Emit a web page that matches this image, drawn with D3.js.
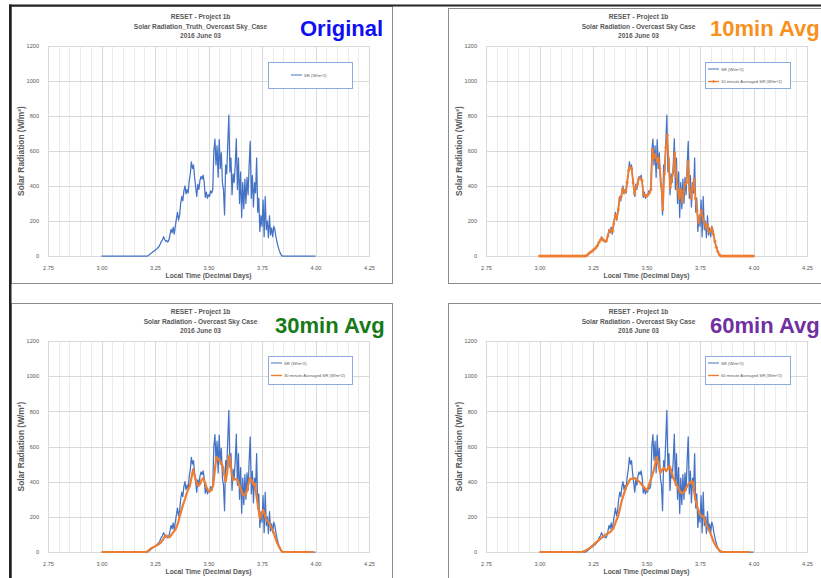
<!DOCTYPE html>
<html><head><meta charset="utf-8">
<script src="https://cdn.jsdelivr.net/npm/d3@7"></script>
<style>body{margin:0;background:#fff;} svg{display:block;}</style>
</head><body><svg id="c" width="821" height="578"></svg>
<script>
// ---------- DATA ----------
const xTicks = [2.75, 3.00, 3.25, 3.50, 3.75, 4.00, 4.25];
const yTicks = [0, 200, 400, 600, 800, 1000, 1200];
const xDomain = [2.75, 4.25];
const yDomain = [0, 1200];
const minorGridStep = 0.05;

const titleLine1 = "RESET - Project 1b";
const titleLine3 = "2016 June 03";
const xTitle = "Local Time (Decimal Days)";
const yTitle = "Solar Radiation (W/m\u00B2)";
const srLabel = "SR (W/m^2)";

// measured solar radiation [local time (decimal days), W/m^2]
const srSeries = [
 [3.000,0],[3.215,0],[3.220,3],[3.225,8],[3.230,14],[3.235,18],[3.240,24],[3.245,27],[3.250,33],[3.255,38],
 [3.260,42],[3.265,50],[3.270,56],[3.275,70],[3.280,84],[3.285,92],[3.290,110],[3.295,96],[3.300,84],[3.305,88],
 [3.310,80],[3.315,92],[3.320,120],[3.325,152],[3.330,132],[3.335,165],[3.340,125],[3.345,170],[3.350,212],[3.355,250],
 [3.360,205],[3.365,235],[3.370,300],[3.375,340],[3.380,315],[3.385,372],[3.390,400],[3.395,355],[3.400,380],[3.405,360],
 [3.410,430],[3.415,470],[3.420,538],[3.425,500],[3.430,520],[3.435,450],[3.440,395],[3.445,340],[3.450,410],[3.455,380],
 [3.460,430],[3.465,455],[3.470,440],[3.475,462],[3.480,420],[3.485,335],[3.490,365],[3.495,330],[3.500,350],[3.505,340],
 [3.510,372],[3.515,360],[3.520,380],[3.525,600],[3.530,668],[3.535,520],[3.540,630],[3.545,450],[3.550,665],[3.555,500],
 [3.560,590],[3.565,420],[3.570,380],[3.575,235],[3.580,520],[3.585,470],[3.590,640],[3.595,805],[3.600,480],[3.605,560],
 [3.610,350],[3.615,470],[3.620,420],[3.625,520],[3.630,670],[3.635,380],[3.640,560],[3.645,300],[3.650,480],[3.655,220],
 [3.660,420],[3.665,270],[3.670,440],[3.675,300],[3.680,450],[3.685,350],[3.690,520],[3.695,655],[3.700,330],[3.705,460],
 [3.710,280],[3.715,420],[3.720,360],[3.725,560],[3.730,250],[3.735,330],[3.740,140],[3.745,230],[3.750,170],[3.755,320],
 [3.760,110],[3.765,340],[3.770,150],[3.775,200],[3.780,105],[3.785,230],[3.790,120],[3.795,160],[3.800,110],[3.805,170],
 [3.810,150],[3.815,110],[3.820,80],[3.825,55],[3.830,35],[3.835,18],[3.840,6],[3.845,0],[4.000,0]
];

// 10 minute averaged SR, one value every 10 minutes starting at day 3.00
const avg10Start = 3.0;
const avg10StepMinutes = 10;
const avg10Values = [
 0,0,0,0,0,0,0,0,0,0, 0,0,0,0,0,0,0,0,0,0, 0,0,0,0,0,0,0,0,0,0, 0,0,
 5,13,20,26,33,40,48,60,78,92,
 102,90,86,86,115,145,150,140,185,235,
 215,265,330,340,385,365,370,420,490,510,
 500,420,355,395,410,445,445,430,350,345,
 342,350,362,380,610,560,580,540,560,500,
 400,265,470,620,690,520,390,440,480,590,
 460,380,330,380,310,370,410,420,540,380,
 330,380,440,330,260,190,230,260,210,190,
 160,180,140,140,160,125,85,50,25,8,
 0,0,0,0,0,0,0,0,0,0, 0,0,0,0,0,0,0,0,0,0, 0,0,0
];

// 30 minute averaged SR [day, W/m^2]
const avg30Series = [
 [3.00,0],[3.21,0],[3.22,8],[3.233,22],[3.25,32],[3.265,42],[3.278,55],[3.288,72],[3.30,95],[3.31,88],
 [3.319,84],[3.328,100],[3.335,112],[3.345,128],[3.352,145],[3.36,175],[3.366,205],[3.373,235],[3.38,265],[3.39,300],
 [3.397,330],[3.405,355],[3.413,375],[3.42,420],[3.428,470],[3.436,430],[3.444,395],[3.452,375],[3.46,385],[3.468,410],
 [3.475,420],[3.482,400],[3.49,370],[3.498,350],[3.506,345],[3.514,352],[3.522,380],[3.53,470],[3.537,540],[3.545,530],
 [3.553,520],[3.561,500],[3.569,480],[3.575,430],[3.58,400],[3.587,450],[3.593,530],[3.597,550],[3.603,510],[3.608,450],
 [3.615,410],[3.625,415],[3.634,410],[3.64,395],[3.647,370],[3.655,345],[3.662,320],[3.67,325],[3.678,340],[3.686,385],
 [3.693,420],[3.70,410],[3.706,395],[3.712,380],[3.717,390],[3.722,340],[3.728,290],[3.734,240],[3.74,190],[3.748,215],
 [3.756,240],[3.762,215],[3.768,190],[3.776,175],[3.784,165],[3.793,140],[3.803,115],[3.81,90],[3.818,60],[3.826,38],
 [3.834,20],[3.84,8],[3.846,0],[3.99,0]
];

// 60 minute averaged SR [day, W/m^2]
const avg60Series = [
 [3.00,0],[3.20,0],[3.215,8],[3.237,25],[3.26,50],[3.275,65],[3.291,82],[3.307,98],[3.33,112],[3.345,135],
 [3.353,160],[3.369,210],[3.385,295],[3.405,370],[3.424,415],[3.447,420],[3.47,395],[3.494,360],[3.502,350],[3.517,400],
 [3.533,460],[3.548,540],[3.564,450],[3.58,480],[3.592,460],[3.608,490],[3.626,420],[3.642,380],[3.661,335],[3.676,340],
 [3.692,380],[3.707,400],[3.717,400],[3.728,300],[3.739,250],[3.751,210],[3.767,200],[3.782,150],[3.798,110],[3.813,60],
 [3.829,25],[3.845,4],[3.86,0],[3.982,0]
];

const avg10Series = avg10Values.map((v, i) => [avg10Start + i * avg10StepMinutes / 1440, v]);

// ---------- LAYOUT ----------
const panels = [
 {box:[11,6,381,277], plot:[48,369,46,256], title2:"Solar Radiation_Truth_Overcast Sky_Case",
  tag:"Original", tagColor:"#0f0ff5", tagX:300, tagY:36, legend:[268,62,84,26], avg:null},
 {box:[448,8,380,275], plot:[486,807,46,256], title2:"Solar Radiation - Overcast Sky Case",
  tag:"10min Avg", tagColor:"#f7911e", tagX:710, tagY:36, legend:[705,62,85,26], avg:avg10Series, avgLabel:"10 minute Averaged SR (W/m^2)", markers:true},
 {box:[11,303,381,290], plot:[48,369,341,552], title2:"Solar Radiation - Overcast Sky Case",
  tag:"30min Avg", tagColor:"#177a17", tagX:275, tagY:333, legend:[268,356,84,28], avg:avg30Series, avgLabel:"30 minute Averaged SR (W/m^2)"},
 {box:[448,303,380,290], plot:[486,807,341,552], title2:"Solar Radiation - Overcast Sky Case",
  tag:"60min Avg", tagColor:"#7030a0", tagX:710, tagY:333, legend:[705,356,85,28], avg:avg60Series, avgLabel:"60 minute Averaged SR (W/m^2)"}
];

const BLUE = "#4472c4", ORANGE = "#ed7d31", TXT = "#595959";
const FONT = "'Liberation Sans', Arial, sans-serif";

const svg = d3.select("#c");
svg.append("rect").attr("width",821).attr("height",578).attr("fill","#fff");

panels.forEach(p => {
  const [L, R, T, B] = p.plot;
  const g = svg.append("g");
  g.append("rect").attr("x",p.box[0]+0.5).attr("y",p.box[1]+0.5).attr("width",p.box[2]).attr("height",p.box[3])
    .attr("fill","#fff").attr("stroke","#8c8c8c").attr("stroke-width",1);

  const x = d3.scaleLinear().domain(xDomain).range([L, R]);
  const y = d3.scaleLinear().domain(yDomain).range([B, T]);

  // minor vertical gridlines
  const minor = d3.range(xDomain[0], xDomain[1] + 1e-9, minorGridStep);
  g.append("g").selectAll("line").data(minor).join("line")
    .attr("x1", d => Math.round(x(d)) + 0.5).attr("x2", d => Math.round(x(d)) + 0.5)
    .attr("y1", T).attr("y2", B).attr("stroke", "#ebebeb").attr("stroke-width", 1);
  g.append("g").selectAll("line").data(xTicks).join("line")
    .attr("x1", d => Math.round(x(d)) + 0.5).attr("x2", d => Math.round(x(d)) + 0.5)
    .attr("y1", T).attr("y2", B).attr("stroke", "#d9d9d9").attr("stroke-width", 1);
  g.append("g").selectAll("line").data(yTicks).join("line")
    .attr("x1", L).attr("x2", R)
    .attr("y1", d => Math.round(y(d)) + 0.5).attr("y2", d => Math.round(y(d)) + 0.5)
    .attr("stroke", d => d === 0 ? "#bfbfbf" : "#d9d9d9").attr("stroke-width", 1);
  g.append("rect").attr("x",L+0.5).attr("y",T+0.5).attr("width",R-L).attr("height",B-T)
    .attr("fill","none").attr("stroke","#d9d9d9");

  // axes
  const xa = g.append("g").attr("transform", `translate(0,${B + 7})`)
    .call(d3.axisBottom(x).tickValues(xTicks).tickFormat(d3.format(".2f")).tickSize(0));
  const ya = g.append("g").attr("transform", `translate(${L - 6},0)`)
    .call(d3.axisLeft(y).tickValues(yTicks).tickFormat(d3.format("d")).tickSize(0));
  [xa, ya].forEach(a => {
    a.select(".domain").remove();
    a.selectAll("text").attr("fill", TXT).style("font-family", FONT).style("font-size", "5.6px");
  });

  // titles
  const cx = (L + R) / 2 - 8;
  [titleLine1, p.title2, titleLine3].forEach((t, i) => {
    g.append("text").attr("x", cx).attr("y", T - 27 + i * 9.7).attr("text-anchor", "middle")
      .attr("fill", TXT).style("font-family", FONT).style("font-size", "6.6px").style("font-weight", "bold").text(t);
  });
  g.append("text").attr("x", (L + R) / 2).attr("y", B + 22).attr("text-anchor", "middle")
    .attr("fill", TXT).style("font-family", FONT).style("font-size", "6.8px").style("font-weight", "bold").text(xTitle);
  g.append("text").attr("transform", `translate(${L - 24},${(T + B) / 2}) rotate(-90)`).attr("text-anchor", "middle")
    .attr("fill", TXT).style("font-family", FONT).style("font-size", "8.4px").style("font-weight", "bold").text(yTitle);

  // series
  const line = d3.line().x(d => x(d[0])).y(d => y(d[1]));
  g.append("path").datum(srSeries).attr("d", line).attr("fill", "none")
    .attr("stroke", BLUE).attr("stroke-width", 1.25).attr("stroke-linejoin", "round");
  if (p.avg) {
    g.append("path").datum(p.avg).attr("d", line).attr("fill", "none")
      .attr("stroke", ORANGE).attr("stroke-width", p.markers ? 1.8 : 2.2).attr("stroke-linejoin", "round");
    if (p.markers) {
      g.append("g").selectAll("circle").data(p.avg).join("circle")
        .attr("cx", d => x(d[0])).attr("cy", d => y(d[1])).attr("r", 1.5)
        .attr("fill", ORANGE).attr("opacity", 0.85);
    }
  }

  // legend
  const [lx, ly, lw, lh] = p.legend;
  const lg = g.append("g");
  lg.append("rect").attr("x", lx + 0.5).attr("y", ly + 0.5).attr("width", lw).attr("height", lh)
    .attr("fill", "#fff").attr("stroke", "#8faadc").attr("stroke-width", 1);
  const entries = p.avg ? [{c: BLUE, t: srLabel, w: 1}, {c: ORANGE, t: p.avgLabel, w: 1.4, m: p.markers}] : [{c: BLUE, t: srLabel, w: 1}];
  entries.forEach((e, i) => {
    const ey = p.avg ? ly + 7 + i * 12.5 : ly + lh / 2;
    const sx = p.avg ? lx + 3 : lx + 23;
    lg.append("line").attr("x1", sx).attr("x2", sx + 11).attr("y1", ey).attr("y2", ey)
      .attr("stroke", e.c).attr("stroke-width", e.w);
    if (e.m) lg.append("circle").attr("cx", sx + 5.5).attr("cy", ey).attr("r", 1.2).attr("fill", e.c);
    lg.append("text").attr("x", sx + 13).attr("y", ey + 1.5).attr("fill", TXT)
      .style("font-family", FONT).style("font-size", "4.2px").text(e.t);
  });

  // corner tag
  g.append("text").attr("x", p.tagX).attr("y", p.tagY).attr("fill", p.tagColor)
    .style("font-family", FONT).style("font-size", "22px").style("font-weight", "bold").text(p.tag);
});

// dark slide frame lines
svg.append("rect").attr("x", 9).attr("y", 4.5).attr("width", 812).attr("height", 2).attr("fill", "#222");
svg.append("rect").attr("x", 9).attr("y", 4.5).attr("width", 2.5).attr("height", 574).attr("fill", "#222");
</script></body></html>
